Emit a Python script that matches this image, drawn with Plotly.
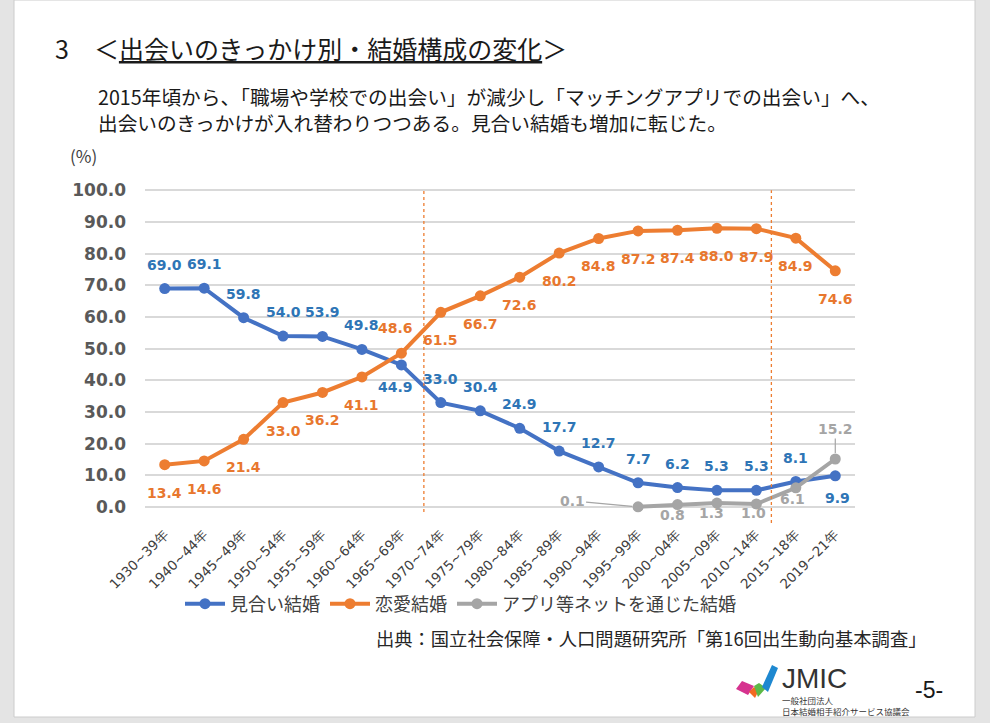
import plotly.graph_objects as go

# ---------------- data ----------------
categories = ["1930~39年", "1940~44年", "1945~49年", "1950~54年", "1955~59年",
              "1960~64年", "1965~69年", "1970~74年", "1975~79年", "1980~84年",
              "1985~89年", "1990~94年", "1995~99年", "2000~04年", "2005~09年",
              "2010~14年", "2015~18年", "2019~21年"]
miai = [69.0, 69.1, 59.8, 54.0, 53.9, 49.8, 44.9, 33.0, 30.4, 24.9,
        17.7, 12.7, 7.7, 6.2, 5.3, 5.3, 8.1, 9.9]
renai = [13.4, 14.6, 21.4, 33.0, 36.2, 41.1, 48.6, 61.5, 66.7, 72.6,
         80.2, 84.8, 87.2, 87.4, 88.0, 87.9, 84.9, 74.6]
app = [None] * 12 + [0.1, 0.8, 1.3, 1.0, 6.1, 15.2]
series_names = ["見合い結婚", "恋愛結婚", "アプリ等ネットを通じた結婚"]
y_ticks = [0, 10, 20, 30, 40, 50, 60, 70, 80, 90, 100]
y_ticktext = [f"{v:.1f}" for v in y_ticks]

# ---------------- style ----------------
W, H = 990, 723
L, R, T, B = 145, 135, 184, 200
PW, PH = W - L - R, H - T - B
C_BLUE, C_ORANGE, C_GRAY = "#4472C4", "#ED7D31", "#A5A5A5"
LBL_BLUE, LBL_ORANGE, LBL_GRAY = "#2E75B6", "#E8772E", "#A5A5A5"
JP = "Noto Sans CJK JP"
NUM = "DejaVu Sans"

# label offsets (pixels) per point
miai_off = [(0, -24)] * 18
miai_off[6] = (-6, 22)
miai_off[17] = (2, 22)
renai_off = [(0, 28)] * 18
renai_off[6] = (-6, -25)
app_off = [None] * 12 + ["lead", (-5, 10), (-5, 10), (-3, 9), (-3, 11), "lead2"]


def px(x):
    return (x - L) / PW


def py(y):
    return (H - B - y) / PH


fig = go.Figure()
for name, vals, col in zip(series_names, [miai, renai, app], [C_BLUE, C_ORANGE, C_GRAY]):
    fig.add_trace(go.Scatter(
        x=categories, y=vals, name=name, mode="lines+markers",
        line=dict(color=col, width=4), marker=dict(color=col, size=11),
        cliponaxis=False, connectgaps=False, hoverinfo="skip"))

ann = []
for i, v in enumerate(miai):
    dx, dy = miai_off[i]
    ann.append(dict(x=categories[i], y=v, text=f"<b>{v:.1f}</b>", showarrow=False,
                    xshift=dx, yshift=-dy, font=dict(family=NUM, size=14, color=LBL_BLUE)))
for i, v in enumerate(renai):
    dx, dy = renai_off[i]
    ann.append(dict(x=categories[i], y=v, text=f"<b>{v:.1f}</b>", showarrow=False,
                    xshift=dx, yshift=-dy, font=dict(family=NUM, size=14, color=LBL_ORANGE)))
for i, v in enumerate(app):
    if v is None:
        continue
    o = app_off[i]
    if o == "lead":
        ann.append(dict(x=categories[i], y=v, text=f"<b>{v:.1f}</b>", showarrow=True,
                        ax=-66, ay=-6, arrowhead=0, arrowwidth=1.2, arrowcolor=C_GRAY,
                        standoff=6, font=dict(family=NUM, size=14, color=LBL_GRAY)))
    elif o == "lead2":
        ann.append(dict(x=categories[i], y=v, text=f"<b>{v:.1f}</b>", showarrow=True,
                        ax=0, ay=-30, arrowhead=0, arrowwidth=1.2, arrowcolor=C_GRAY,
                        standoff=6, font=dict(family=NUM, size=14, color=LBL_GRAY)))
    else:
        dx, dy = o
        ann.append(dict(x=categories[i], y=v, text=f"<b>{v:.1f}</b>", showarrow=False,
                        xshift=dx, yshift=-dy, font=dict(family=NUM, size=14, color=LBL_GRAY)))


def ptext(x, y, text, size, color="#1A1A1A", family=JP, xanchor="left"):
    ann.append(dict(xref="paper", yref="paper", x=px(x), y=py(y), text=text,
                    showarrow=False, xanchor=xanchor, yanchor="middle", align="left",
                    font=dict(family=family, size=size, color=color)))


ptext(53, 48, "3　＜<u>出会いのきっかけ別・結婚構成の変化</u>＞", 25)
ptext(96, 109.5, "2015年頃から、「職場や学校での出会い」が減少し「マッチングアプリでの出会い」へ、"
      "<br>出会いのきっかけが入れ替わりつつある。見合い結婚も増加に転じた。", 19.7)
ptext(68, 155, "(%)", 17, color="#404040")
ptext(374, 638, "出典：国立社会保障・人口問題研究所「第16回出生動向基本調査」", 18.3, color="#262626")
ptext(780, 678, "JMIC", 28, color="#333333", family="Liberation Sans")
ptext(780, 705, "一般社団法人<br>日本結婚相手紹介サービス協議会", 8.5, color="#333333")
ptext(913, 690, "-5-", 23, color="#1A1A1A", family="Liberation Sans")

shapes = []
shapes.append(dict(type="rect", xref="paper", yref="paper", x0=px(14), x1=px(975),
                   y0=py(0), y1=py(717), fillcolor="white",
                   line=dict(color="#CCCCCC", width=1), layer="below"))
for xv, ybot in [(6.57, -1.5), (15.38, -5)]:
    shapes.append(dict(type="line", xref="x", yref="y", x0=xv, x1=xv, y0=ybot, y1=100,
                       line=dict(color=C_ORANGE, width=1.3, dash="dot"), layer="above"))


def poly(points, color):
    path = "M " + " L ".join(f"{px(a):.5f},{py(b):.5f}" for a, b in points) + " Z"
    shapes.append(dict(type="path", xref="paper", yref="paper", path=path,
                       fillcolor=color, line=dict(width=0)))


poly([(736, 689), (742, 681), (754, 686), (748, 695)], "#D6338F")
poly([(749, 692), (754, 687), (759, 690), (755, 698)], "#F26A21")
poly([(754, 686), (759, 683), (766, 688), (758, 697)], "#5DB947")
poly([(762, 687), (772, 665), (778, 668), (768, 692)], "#1E88D0")

fig.update_layout(
    width=W, height=H,
    margin=dict(l=L, r=R, t=T, b=B, autoexpand=False),
    paper_bgcolor="#E4E4E4", plot_bgcolor="white",
    showlegend=True,
    legend=dict(orientation="h", x=px(180), y=py(604), xanchor="left", yanchor="middle",
                font=dict(family=JP, size=18, color="#404040"),
                bgcolor="rgba(0,0,0,0)", itemwidth=40),
    xaxis=dict(type="category", range=[-0.5, 17.5], showgrid=False, showline=False,
               zeroline=False, ticks="", tickangle=-45,
               tickfont=dict(family=NUM, size=13.5, color="#404040")),
    yaxis=dict(range=[-5, 102], tickvals=y_ticks, ticktext=y_ticktext, showgrid=True,
               gridcolor="#D9D9D9", gridwidth=1.5, zeroline=False, showline=False,
               ticks="", ticklabelstandoff=18,
               tickfont=dict(family=NUM, size=17, color="#595959", weight="bold")),
    annotations=ann, shapes=shapes,
)

fig.write_html("out.html", config={"displayModeBar": False},
               post_script="document.body.style.margin='0';document.body.style.background='#E4E4E4';")
